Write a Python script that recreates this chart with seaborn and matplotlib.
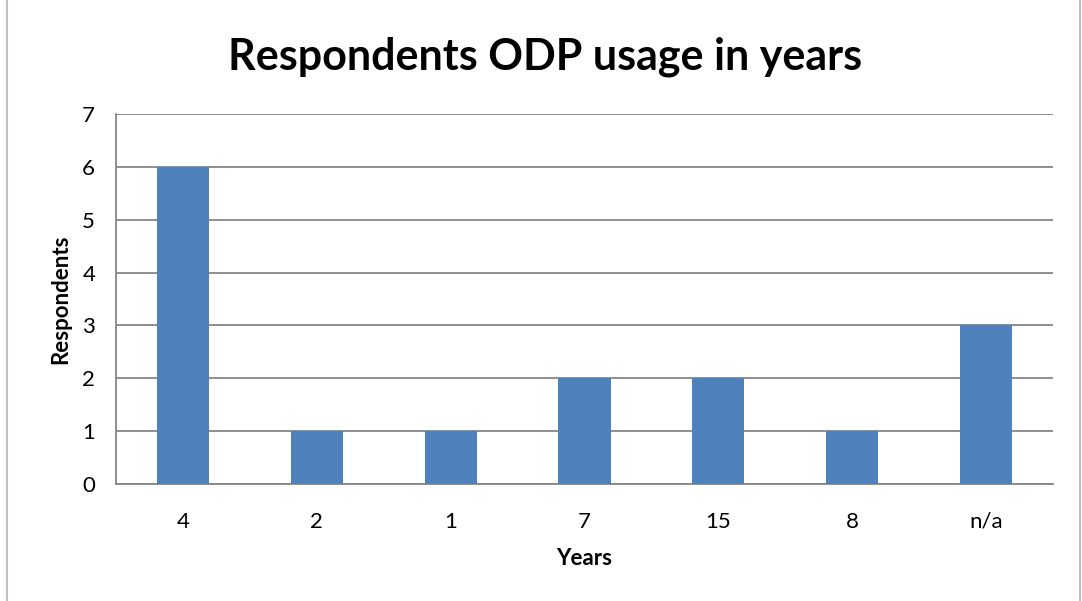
import numpy as np
import pandas as pd
import matplotlib
matplotlib.use('Agg')
import matplotlib.pyplot as plt
import seaborn as sns
from matplotlib.lines import Line2D

# ----------- Data -----------
years = ['4', '2', '1', '7', '15', '8', 'n/a']
respondents = [6, 1, 1, 2, 2, 1, 3]

df = pd.DataFrame({'Years': years, 'Respondents': respondents})

sns.set_style('white')
plt.rcParams['font.family'] = ['Lato', 'DejaVu Sans']
plt.rcParams['text.color'] = 'black'
plt.rcParams['axes.labelcolor'] = 'black'

fig = plt.figure(figsize=(10.82, 6.01), dpi=100)
ax = fig.add_axes([0.1072, 0.1947, 0.866, 0.6156])

sns.barplot(data=df, x='Years', y='Respondents', color='#4F81BD',
            width=0.39, saturation=1, linewidth=0, ax=ax, zorder=3)

ax.set_ylim(0, 7)
ax.set_yticks(range(0, 8))
ax.set_xlim(-0.5, len(years) - 0.5)
ax.yaxis.grid(True, color='#868686', linewidth=1.3, zorder=0)
ax.set_axisbelow(True)

for side in ['top', 'right']:
    ax.spines[side].set_visible(False)
ax.spines['left'].set_color('#868686')
ax.spines['left'].set_linewidth(1.3)
ax.spines['bottom'].set_color('#868686')
ax.spines['bottom'].set_linewidth(1.3)

ax.tick_params(axis='y', length=9, width=1.3, color='#868686', labelsize=16,
               labelcolor='black', pad=6)
ax.tick_params(axis='x', length=0, labelsize=16, labelcolor='black', pad=20)

ax.set_xlabel('Years', fontsize=16, fontweight='bold', labelpad=12)
ax.set_ylabel('Respondents', fontsize=16, fontweight='bold', labelpad=8)

fig.text(0.504, 0.905, 'Respondents ODP usage in years', ha='center', va='center',
         fontsize=31, fontweight='bold', color='black')

# chart frame
fig.add_artist(Line2D([7 / 1082, 7 / 1082], [0, 1], color='#BFBFBF', linewidth=1.5,
                      transform=fig.transFigure))
fig.add_artist(Line2D([1080 / 1082, 1080 / 1082], [0, 1], color='#BFBFBF', linewidth=1.5,
                      transform=fig.transFigure))

plt.savefig('out.png', dpi=100)
